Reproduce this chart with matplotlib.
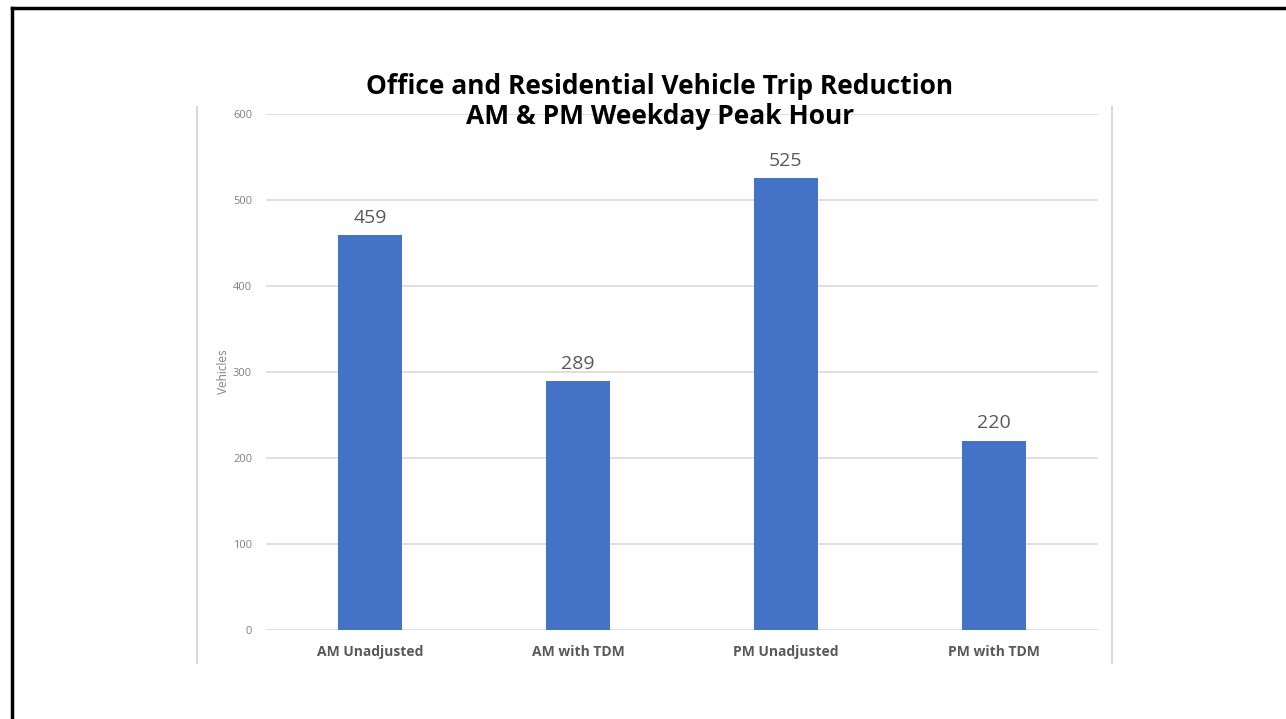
import matplotlib.pyplot as plt
from matplotlib.lines import Line2D
import numpy as np

categories = ["AM Unadjusted", "AM with TDM", "PM Unadjusted", "PM with TDM"]
vehicles = [459, 289, 525, 220]
y_ticks = [0, 100, 200, 300, 400, 500, 600]

BAR_COLOR = "#4472C4"
GRID_COLOR = "#d9d9d9"
TEXT_GRAY = "#595959"

W, H = 1286, 719
fig = plt.figure(figsize=(W / 100, H / 100), dpi=100)
ax = fig.add_axes([266 / W, 1 - 630 / H, (1098 - 266) / W, (630 - 114) / H])

x = np.arange(len(categories))
bars = ax.bar(x, vehicles, width=0.31, color=BAR_COLOR, zorder=3)

for bar, v in zip(bars, vehicles):
    ax.text(bar.get_x() + bar.get_width() / 2, v + 10, f"{v}",
            ha="center", va="bottom", fontsize=14, color=TEXT_GRAY,
            family="Open Sans")

ax.set_xlim(-0.5, len(categories) - 0.5)
ax.set_ylim(0, 600)
ax.set_yticks(y_ticks)
ax.set_yticklabels([str(t) for t in y_ticks], fontsize=8, color="#808080",
                   family="Open Sans")
ax.set_xticks(x)
ax.set_xticklabels(categories, fontsize=10, color=TEXT_GRAY,
                   family="Open Sans", fontweight="bold")
ax.tick_params(axis="both", length=0)
ax.tick_params(axis="y", pad=10)
ax.tick_params(axis="x", pad=11)
ax.grid(axis="y", color=GRID_COLOR, linewidth=1.2, zorder=0)
for s in ax.spines.values():
    s.set_visible(False)
ax.set_ylabel("Vehicles", fontsize=8.5, color="#808080", family="Open Sans")
ax.yaxis.set_label_coords((230 - 266) / 832, 0.5)

fig.text(660 / W, 1 - 86 / H, "Office and Residential Vehicle Trip Reduction",
         ha="center", va="center", fontsize=19, fontweight="bold",
         family="Open Sans")
fig.text(660 / W, 1 - 116 / H, "AM & PM Weekday Peak Hour",
         ha="center", va="center", fontsize=19, fontweight="bold",
         family="Open Sans")

# chart frame (light gray verticals)
for px in (197, 1112):
    fig.add_artist(Line2D([px / W, px / W], [1 - 107 / H, 1 - 663 / H],
                          color=GRID_COLOR, linewidth=1.5))

# slide border (top and left)
fig.add_artist(Line2D([12 / W, 1.0], [1 - 8 / H, 1 - 8 / H], color="black", linewidth=2.5))
fig.add_artist(Line2D([12 / W, 12 / W], [1 - 8 / H, 0.0], color="black", linewidth=2.5))

fig.savefig("out.png", dpi=100)
